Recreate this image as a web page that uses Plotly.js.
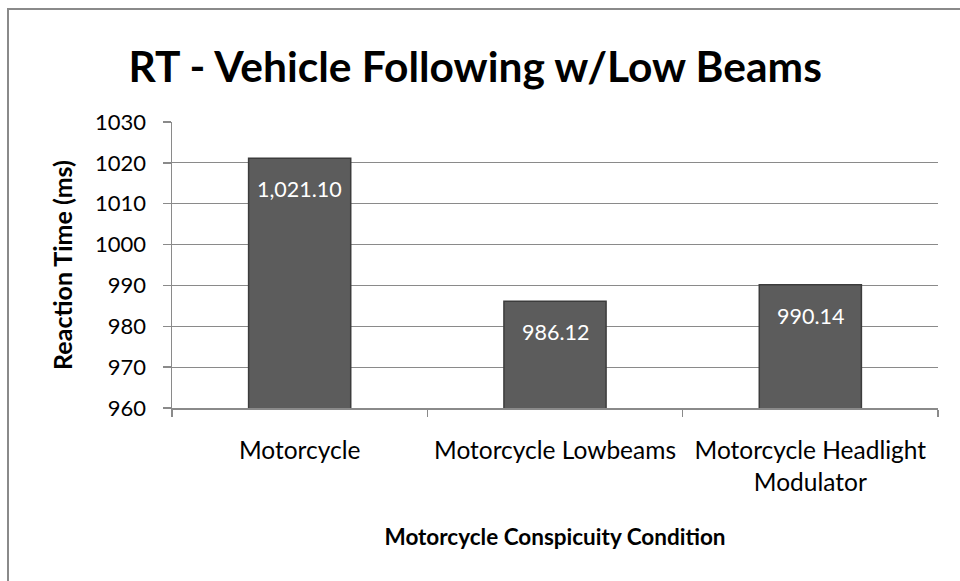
<!DOCTYPE html>
<html>
<head>
<meta charset="utf-8">
<script src="https://cdn.plot.ly/plotly-3.0.1.min.js"></script>
<style>
html,body{margin:0;padding:0;background:#fff;}
#chart{width:960px;height:581px;position:relative;}
#frame{position:absolute;left:7px;top:8px;width:960px;height:600px;border:2px solid #8a8a8a;pointer-events:none;box-sizing:border-box;}
</style>
</head>
<body>
<div id="chart"></div>
<div id="frame"></div>
<script>
const chartTitle = "RT - Vehicle Following w/Low Beams";
const categories = ["Motorcycle", "Motorcycle Lowbeams", "Motorcycle Headlight<br>Modulator"];
const values = [1021.10, 986.12, 990.14];
const yTitle = "Reaction Time (ms)";
const xTitle = "Motorcycle Conspicuity Condition";
const yTicks = [960, 970, 980, 990, 1000, 1010, 1020, 1030];

const FONT = "Lato, 'Open Sans', sans-serif";
const fmt = v => v.toLocaleString('en-US', {minimumFractionDigits: 2, maximumFractionDigits: 2});

const trace = {
  type: 'bar',
  x: categories,
  y: values,
  marker: {color: '#5c5c5c', line: {color: '#3c3c3c', width: 1.5}},
  hoverinfo: 'none'
};

const annotations = categories.map((c, i) => ({
  x: c, y: values[i], xref: 'x', yref: 'y',
  text: fmt(values[i]), showarrow: false,
  yanchor: 'top', yshift: -16,
  font: {family: FONT, size: 21.5, color: '#ffffff'}
}));

const layout = {
  width: 960, height: 581,
  margin: {l: 172, r: 22, t: 122, b: 173},
  paper_bgcolor: '#ffffff', plot_bgcolor: '#ffffff',
  font: {family: FONT, size: 21, color: '#000000'},
  title: {text: '<b>' + chartTitle + '</b>', x: 0.495, xanchor: 'center', y: 0.885, yanchor: 'middle',
          font: {family: FONT, size: 42.5, color: '#000000'}},
  bargap: 0.6,
  showlegend: false,
  xaxis: {
    type: 'category',
    showline: true, linecolor: '#8a8a8a', linewidth: 1.5,
    ticks: 'outside', tickson: 'boundaries', ticklen: 7, tickcolor: '#8a8a8a', tickwidth: 1.5,
    showgrid: false,
    ticklabelstandoff: 20,
    tickfont: {family: FONT, size: 24.5, color: '#000'},
    title: {text: '<b>' + xTitle + '</b>', font: {family: FONT, size: 22.5, color: '#000'}, standoff: 34}
  },
  yaxis: {
    range: [960, 1030], tickvals: yTicks,
    showline: true, linecolor: '#8a8a8a', linewidth: 1.5,
    ticks: 'outside', ticklen: 8, tickcolor: '#8a8a8a', tickwidth: 1.5,
    showgrid: true, gridcolor: '#8a8a8a', gridwidth: 1.2,
    zeroline: false,
    ticklabelstandoff: 12,
    tickfont: {family: FONT, size: 22, color: '#000'},
    title: {text: '<b>' + yTitle + '</b>', font: {family: FONT, size: 25, color: '#000'}, standoff: 15}
  },
  annotations: annotations
};

Plotly.newPlot('chart', [trace], layout, {staticPlot: true, displayModeBar: false});
</script>
</body>
</html>
